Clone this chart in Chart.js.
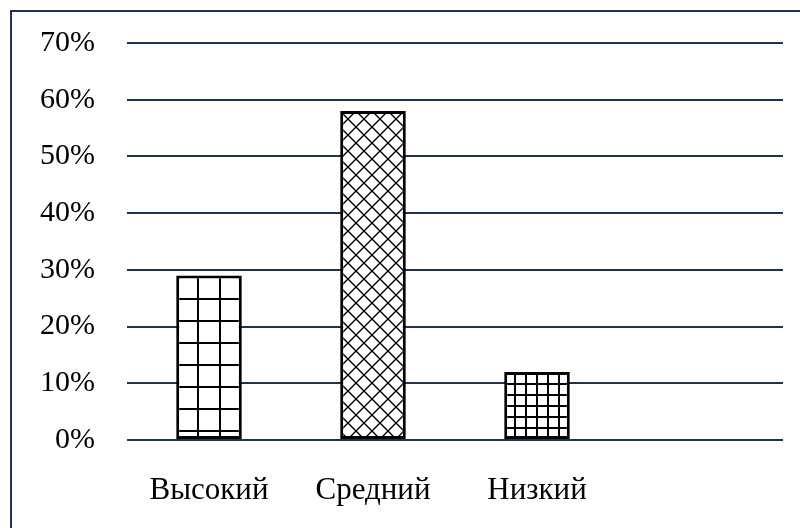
<!DOCTYPE html>
<html>
<head>
<meta charset="utf-8">
<script src="https://cdn.jsdelivr.net/npm/chart.js@4"></script>
<style>
    html, body { margin: 0; padding: 0; background: #fff; overflow: hidden; }
    #wrap { position: relative; width: 800px; height: 528px; }
    #frame {
        position: absolute; left: 10px; top: 10px; width: 820px; height: 540px;
        border-left: 2px solid #1f3350; border-top: 2px solid #1f3350;
        pointer-events: none;
    }
</style>
</head>
<body>
<div id="wrap">
    <canvas id="levelChart" width="800" height="528"></canvas>
    <div id="frame"></div>
</div>
<script>
// Data
const categories = ['Высокий', 'Средний', 'Низкий', ''];
const shares = [29, 58, 12, null];
const yTicks = [0, 10, 20, 30, 40, 50, 60, 70];

const gridColor = '#1f3350';
const fontFamily = '"Liberation Serif", "Times New Roman", serif';

// Build a hatch pattern from a small tile
function makePattern(size, draw, dx, dy) {
    const tile = document.createElement('canvas');
    tile.width = size;
    tile.height = size;
    const t = tile.getContext('2d');
    t.fillStyle = '#fff';
    t.fillRect(0, 0, size, size);
    t.strokeStyle = '#000';
    draw(t, size);
    const p = document.createElement('canvas').getContext('2d').createPattern(tile, 'repeat');
    if (p.setTransform) p.setTransform(new DOMMatrix().translate(dx, dy));
    return p;
}

// square grid
function gridTile(t, s) {
    t.lineWidth = 2;
    t.beginPath();
    t.moveTo(1, 0); t.lineTo(1, s);
    t.moveTo(0, 1); t.lineTo(s, 1);
    t.stroke();
}

// diagonal cross hatch
function crossTile(t, s) {
    t.lineWidth = 1.4;
    t.beginPath();
    t.moveTo(0, 0); t.lineTo(s, s);
    t.moveTo(s, 0); t.lineTo(0, s);
    t.stroke();
}

const fills = [
    makePattern(22, gridTile, 175, 276),
    makePattern(16, crossTile, 340, 111),
    makePattern(11, gridTile, 503, 372),
    '#fff'
];

const ctx = document.getElementById('levelChart').getContext('2d');
new Chart(ctx, {
    type: 'bar',
    data: {
        labels: categories,
        datasets: [{
            data: shares,
            backgroundColor: fills,
            borderColor: '#000',
            borderWidth: 3,
            borderSkipped: false,
            categoryPercentage: 1,
            barPercentage: 0.4
        }]
    },
    options: {
        responsive: false,
        devicePixelRatio: 1,
        animation: false,
        layout: { padding: { top: 43, right: 17, bottom: 0, left: 0 } },
        plugins: {
            legend: { display: false },
            tooltip: { enabled: false }
        },
        scales: {
            x: {
                grid: { display: false },
                border: { display: false },
                ticks: {
                    color: '#000',
                    font: { family: fontFamily, size: 31 },
                    padding: 24,
                    maxRotation: 0
                },
                afterFit: function(scale) {
                    scale.height = 88;
                    scale.paddingLeft = 0;
                    scale.paddingRight = 0;
                }
            },
            y: {
                min: 0,
                max: 70,
                afterBuildTicks: function(scale) {
                    scale.ticks = yTicks.map(v => ({ value: v }));
                },
                grid: { color: gridColor, lineWidth: 2, drawTicks: false },
                border: { display: false },
                ticks: {
                    color: '#000',
                    font: { family: fontFamily, size: 30 },
                    padding: 32,
                    callback: v => v + '%'
                },
                afterFit: function(scale) {
                    scale.width = 127;
                    scale.paddingTop = 0;
                    scale.paddingBottom = 0;
                }
            }
        }
    }
});
</script>
</body>
</html>
